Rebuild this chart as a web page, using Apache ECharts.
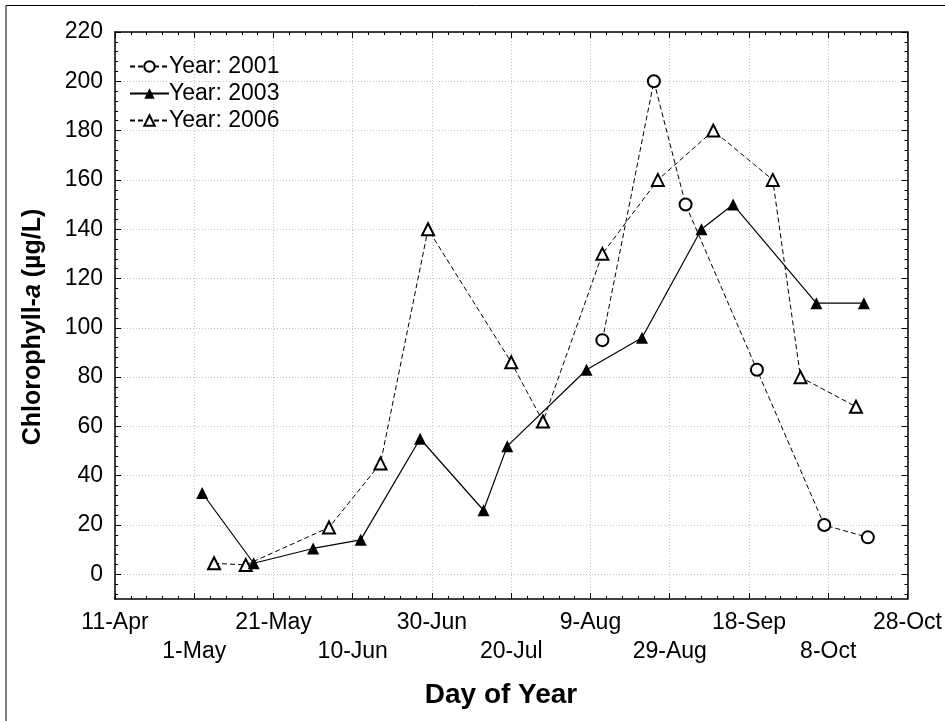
<!DOCTYPE html>
<html>
<head>
<meta charset="utf-8">
<script src="https://cdn.jsdelivr.net/npm/echarts@6/dist/echarts.min.js"></script>
<style>
html,body{margin:0;padding:0;background:#fff;}
#chart{width:945px;height:721px;}
</style>
</head>
<body>
<div id="chart"></div>
<script>
// Day of year (non-leap) for x; Chlorophyll-a (µg/L) for y
var series2001 = [[224, 95], [237, 200], [245, 150], [263, 83], [280, 20], [291, 15]];
var series2003 = [[123, 33], [136, 4.5], [151, 10.5], [163, 14], [178, 55], [194, 26], [200, 52], [220, 83], [234, 96], [249, 140], [257, 150], [278, 110], [290, 110]];
var series2006 = [[126, 4.5], [134, 3.8], [155, 19], [168, 45], [180, 140], [201, 86], [209, 62], [224, 130], [238, 160], [252, 180], [267, 160], [274, 80], [288, 68]];

var xTickDays = [101, 121, 141, 161, 181, 201, 221, 241, 261, 281, 301];
var xTickLabels = ['11-Apr', '1-May', '21-May', '10-Jun', '30-Jun', '20-Jul', '9-Aug', '29-Aug', '18-Sep', '8-Oct', '28-Oct'];
var yMajorTicks = [0, 20, 40, 60, 80, 100, 120, 140, 160, 180, 200, 220];
var yMinorTicks = [-8, -4, 4, 8, 12, 16, 24, 28, 32, 36, 44, 48, 52, 56, 64, 68, 72, 76, 84, 88, 92, 96, 104, 108, 112, 116, 124, 128, 132, 136, 144, 148, 152, 156, 164, 168, 172, 176, 184, 188, 192, 196, 204, 208, 212, 216];
var seriesNames = ['Year: 2001', 'Year: 2003', 'Year: 2006'];

var X_MIN = 101, X_MAX = 301, Y_MIN = -10, Y_MAX = 220;
var FONT = '"Liberation Sans", Arial, sans-serif';

var chart = echarts.init(document.getElementById('chart'), null, {renderer: 'canvas'});

function xAxisDef(pos, labels, minor) {
  return {
    type: 'value', position: pos, min: X_MIN, max: X_MAX, interval: 20,
    axisLine: {show: !minor, onZero: false, lineStyle: {color: '#000', width: 1.5}},
    axisTick: {show: !minor, inside: true, length: 6, lineStyle: {color: '#000', width: 1}},
    minorTick: {show: minor, splitNumber: 5, length: 3, lineStyle: {color: '#000', width: 1}},
    splitLine: {show: labels, lineStyle: {color: '#c4c4c4', type: [1, 2], width: 1}},
    minorSplitLine: {show: false},
    axisLabel: labels ? {
      show: true, margin: 9, fontSize: 23, fontFamily: FONT, color: '#000', lineHeight: 29,
      interval: 0, hideOverlap: false, showMinLabel: true, showMaxLabel: true,
      formatter: function (v) {
        var i = xTickDays.indexOf(Math.round(v));
        if (i < 0) return '';
        return (i % 2 === 1 ? '\n' : '') + xTickLabels[i];
      }
    } : {show: false}
  };
}
function yAxisDef(pos, labels, minor) {
  var tickVals = minor ? yMinorTicks : yMajorTicks;
  return {
    type: 'value', position: pos, min: Y_MIN, max: Y_MAX,
    axisLine: {show: !minor, onZero: false, lineStyle: {color: '#000', width: 1.5}},
    axisTick: {show: true, inside: true, length: minor ? 3 : 6, customValues: tickVals, lineStyle: {color: '#000', width: 1}},
    splitLine: {show: labels, lineStyle: {color: '#c4c4c4', type: [1, 2], width: 1}},
    axisLabel: labels ? {show: true, margin: 12, fontSize: 23, fontFamily: FONT, color: '#000', customValues: yMajorTicks} : {show: false, customValues: tickVals}
  };
}

var option = {
  backgroundColor: '#fff',
  animation: false,
  grid: {left: 115, top: 32, width: 793, height: 567, containLabel: false},
  xAxis: [
    xAxisDef('bottom', true, false),
    xAxisDef('bottom', false, true),
    xAxisDef('top', false, false),
    xAxisDef('top', false, true)
  ],
  yAxis: [
    yAxisDef('left', true, false),
    yAxisDef('left', false, true),
    yAxisDef('right', false, false),
    yAxisDef('right', false, true)
  ],
  legend: {
    orient: 'vertical', left: 124, top: 50, itemGap: 4, itemWidth: 39, itemHeight: 13,
    textStyle: {fontSize: 23, fontFamily: FONT, color: '#000', padding: [0, 0, 0, -5]},
    data: seriesNames
  },
  graphic: [
    {type: 'polyline', shape: {points: [[6, 721], [6, 5.5], [945, 5.5]]}, style: {stroke: '#000', lineWidth: 1, fill: null}, silent: true},
    {type: 'text', x: 33, y: 327, rotation: Math.PI / 2,
     style: {text: '{b|Chlorophyll-}{i|a}{b| (µg/L)}', align: 'center', verticalAlign: 'middle',
       rich: {
         b: {fontSize: 25, fontWeight: 'bold', fontFamily: FONT, fill: '#000'},
         i: {fontSize: 25, fontWeight: 'bold', fontStyle: 'italic', fontFamily: FONT, fill: '#000'}
       }}},
    {type: 'text', x: 501, y: 695,
     style: {text: 'Day of Year', align: 'center', verticalAlign: 'middle', fontSize: 28, fontWeight: 'bold', fontFamily: FONT, fill: '#000'}}
  ],
  series: [
    {name: seriesNames[0], type: 'line', data: series2001, symbol: 'emptyCircle', symbolSize: 12,
     lineStyle: {color: '#000', width: 1, type: [5, 3]}, itemStyle: {color: '#000', borderWidth: 1}, z: 3},
    {name: seriesNames[1], type: 'line', data: series2003, symbol: 'triangle', symbolSize: 12,
     lineStyle: {color: '#000', width: 1.2, type: 'solid'}, itemStyle: {color: '#000'}, z: 4},
    {name: seriesNames[2], type: 'line', data: series2006, symbol: 'emptyTriangle', symbolSize: 12,
     lineStyle: {color: '#000', width: 1, type: [5, 3]}, itemStyle: {color: '#000', borderWidth: 1}, z: 3}
  ]
};
chart.setOption(option);
</script>
</body>
</html>
